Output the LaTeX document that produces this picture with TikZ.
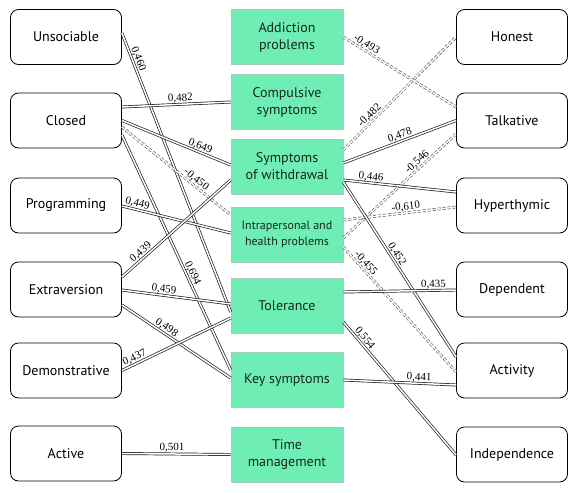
\documentclass[tikz,border=0pt]{standalone}
\usepackage{fontspec}
\setmainfont{Liberation Serif}
\newfontfamily\boxfont{PT Sans}
\usetikzlibrary{calc}
\definecolor{mint}{RGB}{110,238,180}
\definecolor{mintedge}{RGB}{165,205,185}
\definecolor{linec}{RGB}{30,30,30}
\definecolor{dashc}{RGB}{80,80,80}
\definecolor{gtext}{RGB}{20,40,28}
\begin{document}
\begin{tikzpicture}[x=1pt,y=-1pt,
  wbox/.style={draw=black, line width=0.8pt, rounded corners=8pt, minimum width=111pt, minimum height=55pt, inner sep=2pt, align=center, font=\boxfont\fontsize{14}{16}\selectfont},
  gbox/.style={draw=mintedge, fill=mint, line width=0.6pt, minimum width=112pt, minimum height=55pt, inner sep=2pt, align=center, text=gtext, font=\boxfont\fontsize{14}{17}\selectfont},
  rel/.style={draw=linec, double=white, double distance=1.5pt, line width=0.7pt},
  neg/.style={draw=dashc, double=white, double distance=1.5pt, line width=0.6pt, dash pattern=on 3pt off 2pt},
  lab/.style={font=\fontsize{11}{13}\selectfont, sloped, above, inner sep=1pt}
]
\useasboundingbox (0,0) rectangle (579,493);
\fill[white] (0,0) rectangle (579,493);

% left boxes
\node[wbox] (unsoc) at (66,37) {Unsociable};
\node[wbox] (closed) at (66,120.5) {Closed};
\node[wbox] (prog) at (66,205.5) {Programming};
\node[wbox] (extra) at (66,289.5) {Extraversion};
\node[wbox] (demo) at (66,370.5) {Demonstrative};
\node[wbox] (active) at (66,453.5) {Active};

% right boxes
\node[wbox] (honest) at (512,37) {Honest};
\node[wbox] (talk) at (512,120.5) {Talkative};
\node[wbox] (hyper) at (512,205.5) {Hyperthymic};
\node[wbox] (dep) at (512,289.5) {Dependent};
\node[wbox] (activ) at (512,370.5) {Activity};
\node[wbox] (indep) at (512,454.5) {Independence};

% middle boxes
\node[gbox] (addic) at (287,37) {Addiction\\problems};
\node[gbox] (comp) at (287,102) {Compulsive\\symptoms};
\node[gbox] (sow) at (287,166.5) {Symptoms\\of withdrawal};
\node[gbox, font=\boxfont\fontsize{12}{16}\selectfont] (intra) at (287,234.5) {Intrapersonal and\\health problems};
\node[gbox] (tol) at (287,305.5) {Tolerance};
\node[gbox] (key) at (287,380) {Key symptoms};
\node[gbox] (time) at (287,454.5) {Time\\management};

% left connectors
\draw[rel] ($(unsoc.east)+(0,-4)$) -- node[lab,pos=0.1]{0,460} ($(tol.west)+(0,6.5)$);
\draw[rel] ($(closed.east)+(0,-13.5)$) -- node[lab,pos=0.54]{0,482} ($(comp.west)+(0,0)$);
\draw[rel] ($(closed.east)+(0,0)$) -- node[lab,pos=0.7]{0,649} ($(sow.west)+(0,-1.5)$);
\draw[neg] ($(closed.east)+(0,6.5)$) -- node[lab,pos=0.65]{-0,450} ($(intra.west)+(0,-19.5)$);
\draw[rel] ($(closed.east)+(0,14.5)$) -- node[lab,pos=0.6]{0,694} ($(key.west)+(0,-10)$);
\draw[rel] ($(prog.east)+(0,0.5)$) -- node[lab,pos=0.13]{0,449} ($(intra.west)+(0,-1.5)$);
\draw[rel] ($(extra.east)+(0,-12.5)$) -- node[lab,pos=0.21]{0,439} ($(sow.west)+(0,13.5)$);
\draw[rel] ($(extra.east)+(0,0.5)$) -- node[lab,pos=0.38]{0,459} ($(tol.west)+(0,-1.5)$);
\draw[rel] ($(extra.east)+(0,15.5)$) -- node[lab,pos=0.38]{0,498} ($(key.west)+(0,-2)$);
\draw[rel] ($(demo.east)+(0,0)$) -- node[lab,pos=0.14]{0,437} ($(tol.west)+(0,12.5)$);
\draw[rel] (active.east) -- node[lab,pos=0.46]{0,501} (time.west);

% right connectors
\draw[neg] ($(addic.east)+(0,0)$) -- node[lab,pos=0.18]{-0,493} ($(talk.west)+(0,-13.5)$);
\draw[neg] ($(sow.east)+(0,-16.5)$) -- node[lab,pos=0.27]{-0,482} ($(honest.west)+(0,0)$);
\draw[rel] ($(sow.east)+(0,-3.5)$) -- node[lab,pos=0.52]{0,478} ($(talk.west)+(0,0)$);
\draw[neg] ($(intra.east)+(0,3.5)$) -- node[lab,pos=0.69]{-0,546} ($(talk.west)+(0,13.5)$);
\draw[rel] ($(sow.east)+(0,13.5)$) -- node[lab,pos=0.24]{0,446} ($(hyper.west)+(0,-13.5)$);
\draw[neg] ($(intra.east)+(0,-14.5)$) -- node[lab,pos=0.56]{-0,610} ($(hyper.west)+(0,1.5)$);
\draw[rel] ($(sow.east)+(0,15.5)$) -- node[lab,pos=0.43]{0,452} ($(activ.west)+(0,-13.5)$);
\draw[neg] ($(intra.east)+(0,12.5)$) -- node[lab,pos=0.16]{-0,455} ($(activ.west)+(0,1.5)$);
\draw[rel] ($(tol.east)+(0,-13.5)$) -- node[lab,pos=0.8]{0,435} ($(dep.west)+(0,0.5)$);
\draw[rel] ($(tol.east)+(0,16.5)$) -- node[lab,pos=0.15]{0,554} ($(indep.west)+(0,0.5)$);
\draw[rel] ($(key.east)+(0,0)$) -- node[lab,pos=0.67]{0,441} ($(activ.west)+(0,14.5)$);
\end{tikzpicture}
\end{document}
